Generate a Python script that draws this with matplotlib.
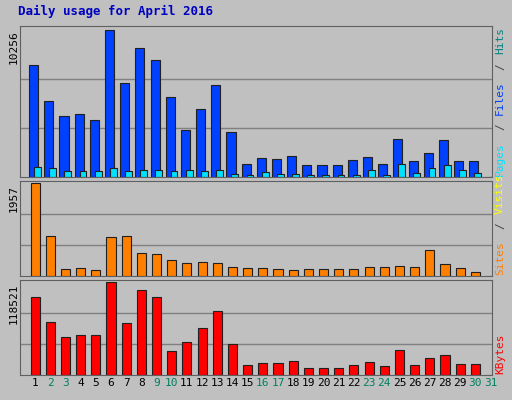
import numpy as np
import matplotlib.pyplot as plt

days = list(range(1, 32))
weekend = [2, 3, 9, 10, 16, 17, 23, 24, 30, 31]
hits = [7830, 5270, 4230, 4370, 3950, 10256, 6510, 9010, 8180, 5540, 3260, 4710, 6380, 3120, 900,
        1320, 1250, 1460, 830, 830, 830, 1180, 1390, 900, 2630, 1110, 1660, 2560, 1110, 1110, 0]
pages = [700, 640, 420, 450, 400, 640, 450, 480, 460, 440, 520, 420, 520, 220, 120,
         330, 200, 200, 130, 130, 130, 140, 460, 150, 900, 300, 620, 830, 520, 280, 0]
visits = [1957, 850, 150, 170, 130, 830, 850, 490, 470, 340, 280, 300, 280, 190, 170,
          170, 150, 130, 150, 150, 150, 150, 190, 190, 210, 190, 550, 255, 170, 90, 0]
kbytes = [100300, 67700, 48200, 50800, 50800, 118521, 66400, 108100, 100300, 31300, 41700, 59900,
          82000, 39100, 13000, 15600, 15600, 18200, 9100, 9100, 9100, 13000, 16900, 11700, 32600,
          13000, 22100, 26000, 14300, 14300, 0]

bg = '#c0c0c0'
W, H = 512, 400
fig = plt.figure(figsize=(5.12, 4.0), dpi=100, facecolor=bg)
mono = 'DejaVu Sans Mono'
fig.text(0.035, 0.962, 'Daily usage for April 2016', color='#0000c0', fontsize=9,
         fontweight='bold', family=mono)

x = np.array(days)
panels = [
    (0.5575, 0.3775, 10256, [(hits, '#0040ff', -0.1, 0.6), (pages, '#00e0ff', 0.15, 0.45)],
     [('Pages', '#00e0ff'), ('/', '#404040'), ('Files', '#0040ff'), ('/', '#404040'), ('Hits', '#008080')]),
    (0.31, 0.2375, 1957, [(visits, '#ff8000', 0.0, 0.6)],
     [('Sites', '#ff8000'), ('/', '#404040'), ('Visits', '#ffff00')]),
    (0.0625, 0.2375, 118521, [(kbytes, '#ff0000', 0.0, 0.6)],
     [('KBytes', '#ff0000')]),
]
cw = 7.6  # pixels per character on the right labels
for i, (bottom, h, vmax, series, lab) in enumerate(panels):
    ax = fig.add_axes([0.039, bottom, 0.922, h], facecolor=bg)
    ax.set_xlim(0.0, 31.1)
    ax.set_ylim(0, vmax * 1.025)
    for v in (vmax / 3, 2 * vmax / 3):
        ax.axhline(v, color='#808080', lw=1, zorder=0)
    for vals, col, off, w in series:
        ax.bar(x + off, vals, width=w, color=col, edgecolor='#202020', linewidth=0.8, zorder=2)
    ax.set_yticks([])
    for s in ax.spines.values():
        s.set_color('#606060')
    fig.text(14 / W, bottom + h - 0.01, str(vmax), rotation=90, ha='center', va='top',
             fontsize=8, family=mono)
    # right label, reading bottom-to-top
    ypix = bottom * H + 1
    for word, col in lab:
        if word == '/':
            ypix += cw
        fig.text(500 / W, ypix / H, word, rotation=90, ha='center', va='bottom',
                 fontsize=8, family=mono, color=col)
        ypix += cw * len(word)
        if word == '/':
            ypix += cw
    if i < 2:
        ax.set_xticks([])
    else:
        ax.set_xticks(x)
        ax.set_xticklabels([str(d) for d in days], fontsize=8, family=mono)
        ax.tick_params(length=0, pad=2)
        for t, d in zip(ax.get_xticklabels(), days):
            t.set_color('#008060' if d in weekend else 'black')

fig.savefig('out.png', dpi=100, facecolor=bg)
